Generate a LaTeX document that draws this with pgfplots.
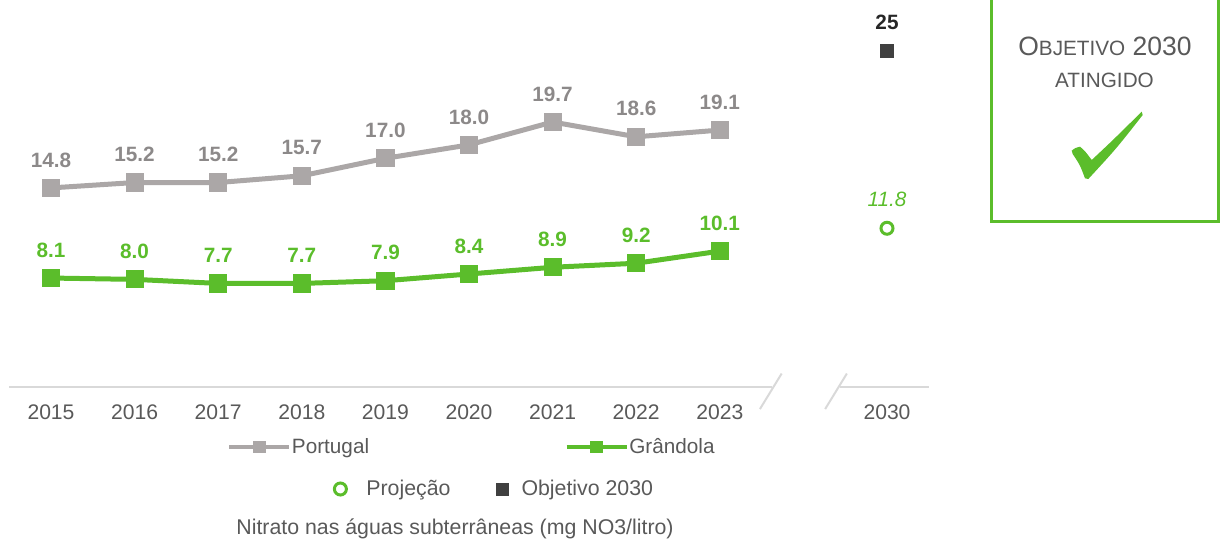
\documentclass[border=0pt]{standalone}
\usepackage{pgfplots}
\pgfplotsset{compat=1.18}
\usepackage{fontspec}
\setmainfont{Liberation Sans}
\definecolor{pgray}{HTML}{ABA7A7}
\definecolor{plabel}{HTML}{8C8989}
\definecolor{pgreen}{HTML}{5BBD2B}
\definecolor{txt}{HTML}{595959}
\definecolor{dark}{HTML}{404040}
\definecolor{axisgray}{HTML}{D9D9D9}
\pgfplotsset{
  dotlegend/.style={legend image code/.code={\path[draw=none] (0bp,0bp) -- (16.5bp,0bp); \draw[##1] plot coordinates {(4bp,0bp)};}},
  sqlegend/.style={legend image code/.code={\path[draw=none] (0bp,0bp) -- (13bp,0bp); \draw[##1] plot coordinates {(4bp,0bp)};}},
}
\begin{document}
\begin{tikzpicture}
\path[use as bounding box] (0,0) rectangle (612.5bp,271.5bp);
\begin{axis}[
  at={(4.6bp,78bp)}, anchor=south west, scale only axis,
  width=459.8bp, height=193.7bp,
  xmin=-0.5, xmax=10.5, ymin=0, ymax=28.8,
  clip=false,
  axis line style={draw=none},
  major tick length=0pt,
  ytick=\empty,
  xtick={0,1,2,3,4,5,6,7,8,10},
  xticklabels={2015,2016,2017,2018,2019,2020,2021,2022,2023,2030},
  xticklabel style={anchor=center, yshift=-12.5bp, font=\fontsize{10.6}{12}\selectfont, text=txt},
  /pgf/number format/assume math mode=true,
  nodes near coords={\pgfmathprintnumber[fixed,fixed zerofill,precision=1]{\pgfplotspointmeta}},
  every node near coord/.append style={anchor=center, yshift=14bp, font=\bfseries\fontsize{10.4}{12}\selectfont},
  legend columns=2,
  legend style={at={(0.2368,-0.1549)}, anchor=west, draw=none, fill=none, inner sep=0pt,
    font=\fontsize{10.4}{12}\selectfont, text=txt,
    /tikz/every even column/.append style={column sep=97.5bp}, nodes={inner xsep=0.3pt}},
  legend image code/.code={\draw[mark repeat=2,mark phase=2,#1] plot coordinates {(0bp,0bp) (15bp,0bp) (30bp,0bp)};},
  legend image post style={line width=2bp, mark size=2.2bp},
]
\addplot[pgray, line width=2.5bp, mark=square*, mark size=3.3bp, mark options={solid},
  every node near coord/.append style={text=plabel}]
  coordinates {(0,14.8)(1,15.2)(2,15.2)(3,15.7)(4,17.0)(5,18.0)(6,19.7)(7,18.6)(8,19.1)};
\addlegendentry{Portugal}
\addplot[pgreen, line width=2.5bp, mark=square*, mark size=3.3bp, mark options={solid},
  every node near coord/.append style={text=pgreen}]
  coordinates {(0,8.1)(1,8.0)(2,7.7)(3,7.7)(4,7.9)(5,8.4)(6,8.9)(7,9.2)(8,10.1)};
\addlegendentry{Grândola}
\addplot[forget plot, only marks, mark=square*, dark, mark size=3.2bp,
  nodes near coords={\pgfmathprintnumber[fixed,precision=0]{\pgfplotspointmeta}},
  every node near coord/.append style={text=black!85}]
  coordinates {(10,25)};
\addplot[forget plot, only marks, mark=o, pgreen, mark size=3bp, line width=1.5bp,
  every node near coord/.append style={text=pgreen, yshift=0.5bp, font=\itshape\fontsize{10.4}{12}\selectfont}]
  coordinates {(10,11.8)};
\draw[axisgray, line width=1bp] (axis cs:-0.5,0) -- (axis cs:8.62,0);
\draw[axisgray, line width=1bp] (axis cs:8.48,-1.64) -- (axis cs:8.74,1.0);
\draw[axisgray, line width=1bp] (axis cs:9.26,-1.64) -- (axis cs:9.52,1.0);
\draw[axisgray, line width=1bp] (axis cs:9.44,0) -- (axis cs:10.5,0);
\end{axis}
\begin{axis}[
  at={(4.6bp,78bp)}, anchor=south west, scale only axis,
  width=459.8bp, height=193.7bp,
  xmin=-0.5, xmax=10.5, ymin=0, ymax=28.8,
  hide axis,
  legend columns=2,
  legend style={at={(0.351,-0.2633)}, anchor=west, draw=none, fill=none, inner sep=0pt,
    font=\fontsize{10.7}{12}\selectfont, text=txt,
    /tikz/every even column/.append style={column sep=21.5bp}, nodes={inner xsep=0.5pt}},
]
\addlegendimage{only marks, mark=o, pgreen, mark size=3bp, line width=1.5bp, dotlegend}
\addlegendentry{Projeção}
\addlegendimage{only marks, mark=square*, dark, mark size=3bp, sqlegend}
\addlegendentry{Objetivo 2030}
\end{axis}
\draw[pgreen, line width=1.5bp] (495.5bp,273bp) -- (495.5bp,160.5bp) -- (609bp,160.5bp) -- (609bp,273bp);
\node[anchor=base, text=txt, inner sep=0pt] at (552.5bp,243.5bp) {\fontsize{13.3}{16}\selectfont O\fontsize{10.4}{12}\selectfont BJETIVO\fontsize{13.3}{16}\selectfont{} 2030};
\node[anchor=base, text=txt, inner sep=0pt] at (552.25bp,227.5bp) {\fontsize{10.4}{12}\selectfont ATINGIDO};
\fill[pgreen] (535.85bp,196.15bp) .. controls (537.5bp,197.5bp) .. (540bp,198.15bp) .. controls (542.5bp,196bp) .. (545.85bp,191.5bp) .. controls (556bp,201bp) .. (570.85bp,215.65bp) -- (571.35bp,214bp) .. controls (558bp,197bp) .. (544.15bp,182bp) -- (542.5bp,182.35bp) .. controls (540bp,189bp) .. (536.35bp,194.5bp) -- cycle;
\node[text=txt, font=\fontsize{10.7}{12}\selectfont] at (227.5bp,7bp) {Nitrato nas águas subterrâneas (mg NO3/litro)};
\end{tikzpicture}
\end{document}
